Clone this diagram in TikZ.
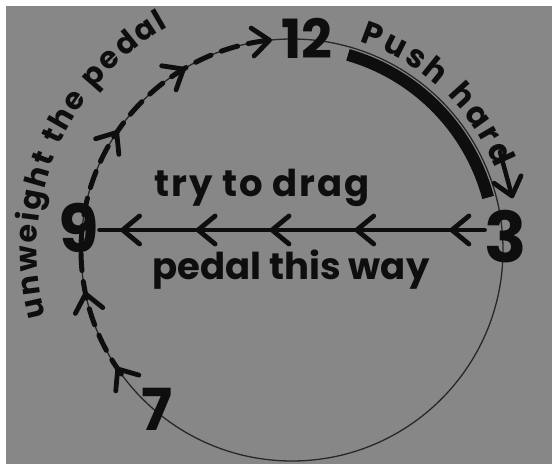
\documentclass[tikz,border=0pt]{standalone}
\usepackage{fontspec}
\setmainfont{Poppins}
\usetikzlibrary{calc,decorations.markings,decorations.text}
\definecolor{paper}{RGB}{135,135,135}
\definecolor{ink}{RGB}{14,14,14}
\definecolor{pencil}{RGB}{40,40,40}
\newcommand\chevmark{\draw[draw=ink, line width=4.8pt, line cap=round, line join=round, solid] (-17pt,14pt) -- (0pt,0pt) -- (-17pt,-14pt);}
\tikzset{
  inkline/.style={draw=ink, line width=4.5pt, line cap=round, line join=round},
  hand/.style={text=ink, inner sep=0pt, font=\bfseries\fontsize{#1}{#1}\selectfont},
  numeral/.style={text=ink, inner sep=0pt, font=\bfseries\fontsize{#1}{#1}\selectfont},
}
\begin{document}
\begin{tikzpicture}[x=1pt,y=1pt]
\fill[white] (0,0) rectangle (552,464);
\fill[paper] (6,0) rectangle (552,458);
\useasboundingbox (0,0) rectangle (552,464);
\coordinate (c) at (292,214);
% thin wheel circle
\draw[draw=pencil, line width=1.3pt] (c) circle[radius=211];
% numerals
\node[numeral=54] (n12) at (307,426) {12};
\node[numeral=70] (n3) at (506,227) {3};
\node[numeral=66] (n9) at (79,236) {9};
\node[numeral=58] (n7) at (157,55) {7};
% push hard thick arc
\draw[draw=ink, line width=12pt] ($(c)+(74:203)$) arc[start angle=74, end angle=15, radius=203];
% small arrow near 3
\coordinate (pa) at (500,312);
\coordinate (pb) at (512,268);
\draw[inkline, postaction={decorate}, decoration={markings, mark=at position 0.999 with {\chevmark}}] (pa) -- (pb);
% dashed unweight arc
\draw[inkline, line width=5pt, dash pattern=on 17pt off 11pt, postaction={decorate},
  decoration={markings,
    mark=at position 0.014 with {\chevmark},
    mark=at position 0.2 with {\chevmark},
    mark=at position 0.582 with {\chevmark},
    mark=at position 0.792 with {\chevmark},
    mark=at position 0.999 with {\chevmark}}]
  ($(c)+(216:211)$) arc[start angle=216, end angle=96, radius=211];
% horizontal drag line
\coordinate (hl) at (0,234);
\draw[inkline, postaction={decorate},
  decoration={markings,
    mark=at position 0.085 with {\chevmark},
    mark=at position 0.332 with {\chevmark},
    mark=at position 0.552 with {\chevmark},
    mark=at position 0.744 with {\chevmark},
    mark=at position 0.94 with {\chevmark}}]
  (n3.west |- hl) -- (n9.east |- hl);
% texts
\node[hand=37, anchor=base] (drag) at (262,267) {\addfontfeature{LetterSpace=5}try to drag};
\node[hand=37, anchor=base] (way) at (291,184) {pedal this way};
\path[decorate, decoration={text along path, text color=ink, text align={fit to path},
  text={|\bfseries\fontsize{32}{32}\selectfont|Push hard}}]
  ($(c)+(72:219)$) arc[start angle=72, end angle=22, radius=219];
\path[decorate, decoration={text along path, text color=ink, text align={fit to path},
  text={|\bfseries\fontsize{30}{30}\selectfont|unweight the pedal}}]
  ($(c)+(195:255)$) arc[start angle=195, end angle=119, radius=255];
\end{tikzpicture}
\end{document}
